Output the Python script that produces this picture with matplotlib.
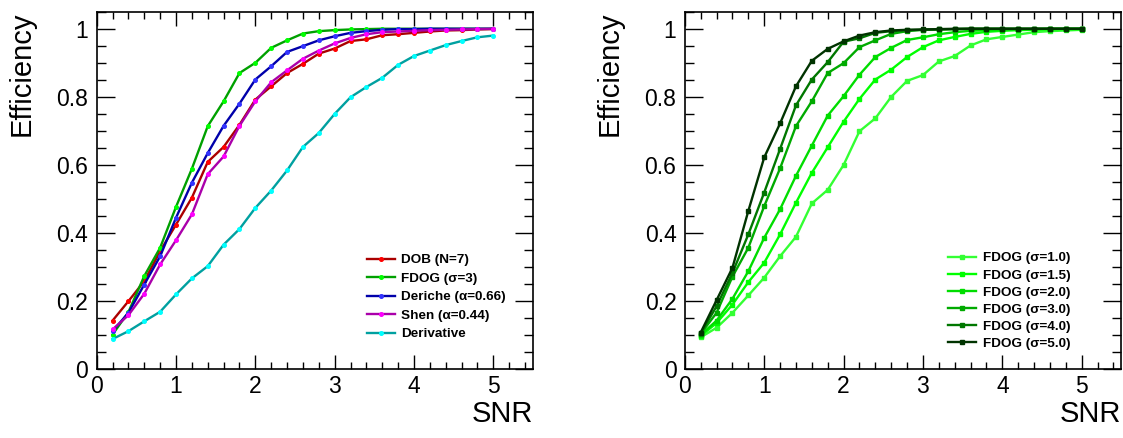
import matplotlib
matplotlib.use("Agg")
import matplotlib.pyplot as plt
from matplotlib.ticker import MultipleLocator

plt.rcParams['font.family'] = ['Liberation Sans', 'DejaVu Sans']

# SNR sampling points
snr = [0.2, 0.4, 0.6, 0.8, 1.0, 1.2, 1.4, 1.6, 1.8, 2.0, 2.2, 2.4, 2.6,
       2.8, 3.0, 3.2, 3.4, 3.6, 3.8, 4.0, 4.2, 4.4, 4.6, 4.8, 5.0]

# left panel: detector comparison
dob = [0.143, 0.200, 0.259, 0.347, 0.425, 0.504, 0.609, 0.653, 0.718, 0.792, 0.831, 0.870, 0.897,
       0.927, 0.942, 0.964, 0.969, 0.981, 0.984, 0.988, 0.992, 0.995, 0.996, 0.998, 0.999]
fdog = [0.102, 0.168, 0.274, 0.357, 0.477, 0.589, 0.714, 0.787, 0.870, 0.900, 0.944, 0.966, 0.986,
        0.993, 0.996, 0.998, 0.999, 1.0, 1.0, 1.0, 1.0, 1.0, 1.0, 1.0, 1.0]
deriche = [0.112, 0.166, 0.249, 0.332, 0.445, 0.548, 0.635, 0.715, 0.780, 0.851, 0.890, 0.932, 0.949,
           0.966, 0.978, 0.988, 0.993, 0.997, 0.999, 0.999, 1.0, 1.0, 1.0, 1.0, 1.0]
shen = [0.117, 0.159, 0.222, 0.308, 0.379, 0.455, 0.573, 0.625, 0.715, 0.787, 0.843, 0.878, 0.912,
        0.936, 0.957, 0.973, 0.984, 0.990, 0.992, 0.994, 0.996, 0.997, 0.998, 0.999, 1.0]
deriv = [0.089, 0.112, 0.141, 0.169, 0.220, 0.267, 0.303, 0.366, 0.412, 0.474, 0.525, 0.584, 0.653,
         0.694, 0.750, 0.799, 0.829, 0.856, 0.894, 0.920, 0.936, 0.952, 0.964, 0.975, 0.980]

left_labels = ['DOB (N=7)', 'FDOG (σ=3)', 'Deriche (α=0.66)', 'Shen (α=0.44)', 'Derivative']
left_line_colors = ['#aa0000', '#00a000', '#0000aa', '#aa00aa', '#00a0a0']
left_marker_colors = ['#ff0000', '#00ff00', '#3333ff', '#ff00ff', '#00ffff']

# right panel: FDOG with different sigma
s10 = [0.094, 0.122, 0.166, 0.217, 0.269, 0.332, 0.389, 0.487, 0.527, 0.600, 0.699, 0.737, 0.800,
       0.847, 0.864, 0.904, 0.920, 0.951, 0.969, 0.976, 0.983, 0.990, 0.993, 0.995, 0.997]
s15 = [0.098, 0.136, 0.190, 0.256, 0.313, 0.396, 0.489, 0.577, 0.652, 0.727, 0.794, 0.851, 0.880,
       0.917, 0.946, 0.966, 0.976, 0.985, 0.991, 0.994, 0.996, 0.997, 0.998, 0.999, 0.999]
s20 = [0.101, 0.143, 0.207, 0.288, 0.386, 0.470, 0.568, 0.657, 0.745, 0.802, 0.865, 0.917, 0.944,
       0.967, 0.975, 0.984, 0.990, 0.994, 0.996, 0.997, 0.998, 0.999, 1.0, 1.0, 1.0]
s30 = [0.104, 0.166, 0.272, 0.357, 0.479, 0.590, 0.714, 0.787, 0.870, 0.899, 0.946, 0.966, 0.985,
       0.993, 0.997, 0.998, 0.999, 1.0, 1.0, 1.0, 1.0, 1.0, 1.0, 1.0, 1.0]
s40 = [0.106, 0.185, 0.283, 0.396, 0.519, 0.647, 0.775, 0.851, 0.902, 0.962, 0.972, 0.988, 0.993,
       0.996, 0.997, 0.998, 0.999, 1.0, 1.0, 1.0, 1.0, 1.0, 1.0, 1.0, 1.0]
s50 = [0.108, 0.203, 0.298, 0.465, 0.622, 0.722, 0.831, 0.906, 0.941, 0.963, 0.980, 0.990, 0.995,
       0.997, 0.998, 0.999, 1.0, 1.0, 1.0, 1.0, 1.0, 1.0, 1.0, 1.0, 1.0]

right_labels = ['FDOG (σ=1.0)', 'FDOG (σ=1.5)', 'FDOG (σ=2.0)',
                'FDOG (σ=3.0)', 'FDOG (σ=4.0)', 'FDOG (σ=5.0)']
right_colors = ['#33ff33', '#00ff00', '#00dd00', '#00aa00', '#007700', '#003300']

yticks = [0, 0.2, 0.4, 0.6, 0.8, 1.0]
ytick_labels = ['0', '0.2', '0.4', '0.6', '0.8', '1']
xticks = [0, 1, 2, 3, 4, 5]

fig = plt.figure(figsize=(11.23, 4.38), dpi=100)
ax1 = fig.add_axes([0.0861, 0.1568, 0.3885, 0.8164])
ax2 = fig.add_axes([0.6098, 0.1568, 0.3888, 0.8164])


def style_axes(ax):
    ax.set_xlim(0, 5.5)
    ax.set_ylim(0, 1.05)
    ax.set_xticks(xticks)
    ax.set_xticklabels([str(t) for t in xticks])
    ax.set_yticks(yticks)
    ax.set_yticklabels(ytick_labels)
    ax.xaxis.set_minor_locator(MultipleLocator(0.2))
    ax.yaxis.set_minor_locator(MultipleLocator(0.05))
    ax.tick_params(which='both', direction='in', top=True, right=True,
                   width=1.0, labelsize=16.5)
    ax.tick_params(axis='y', which='major', length=13, pad=6)
    ax.tick_params(axis='y', which='minor', length=6.5)
    ax.tick_params(axis='x', which='major', length=10, pad=4)
    ax.tick_params(axis='x', which='minor', length=5)
    for sp in ax.spines.values():
        sp.set_linewidth(1.2)
    ax.set_ylabel('Efficiency', fontsize=21, loc='top')
    ax.yaxis.set_label_coords(-0.14, 1.0)
    ax.set_xlabel('SNR', fontsize=21, loc='right')
    ax.xaxis.set_label_coords(1.0, -0.085)


left_series = [dob, fdog, deriche, shen, deriv]
for ys, lab, lc, mc in zip(left_series, left_labels, left_line_colors, left_marker_colors):
    ax1.plot(snr, ys, color=lc, lw=1.7, marker='o', markersize=2.6,
             markerfacecolor=mc, markeredgecolor=mc, label=lab)
style_axes(ax1)
ax1.legend(loc='upper left', bbox_to_anchor=(367 / 1123, 1 - 254 / 438),
           bbox_transform=fig.transFigure, frameon=False,
           prop={'weight': 'bold', 'size': 9.7}, handlelength=2.05,
           handletextpad=0.45, labelspacing=0.45, borderpad=0, borderaxespad=0)

right_series = [s10, s15, s20, s30, s40, s50]
for ys, lab, c in zip(right_series, right_labels, right_colors):
    ax2.plot(snr, ys, color=c, lw=1.7, marker='s', markersize=2.6,
             markerfacecolor=c, markeredgecolor=c, label=lab)
style_axes(ax2)
ax2.legend(loc='upper left', bbox_to_anchor=(948 / 1123, 1 - 252 / 438),
           bbox_transform=fig.transFigure, frameon=False,
           prop={'weight': 'bold', 'size': 9.7}, handlelength=2.1,
           handletextpad=0.5, labelspacing=0.35, borderpad=0, borderaxespad=0)

fig.savefig('out.png', dpi=100)
